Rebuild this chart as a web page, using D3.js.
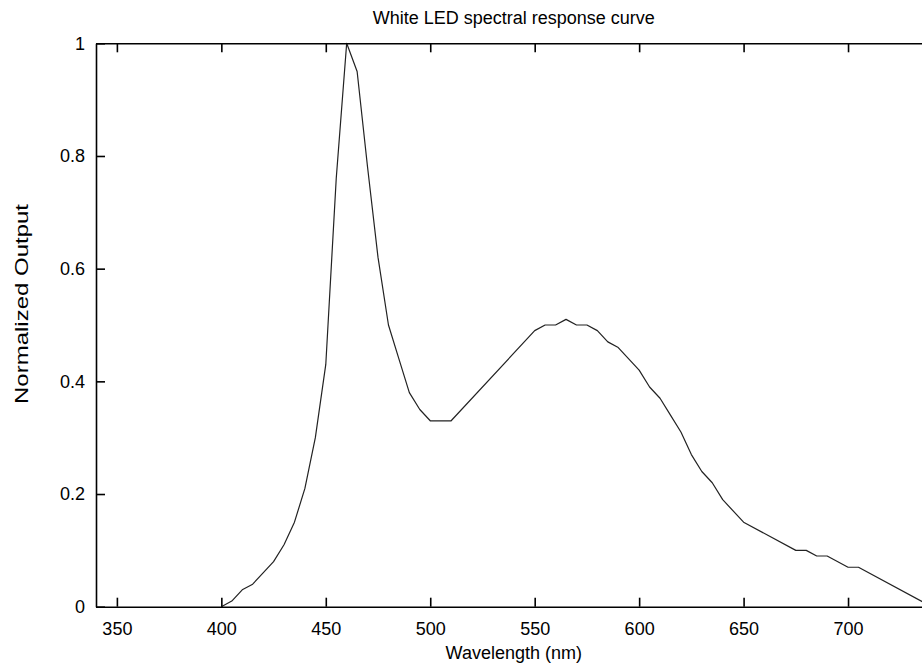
<!DOCTYPE html>
<html>
<head>
<meta charset="utf-8">
<script src="https://cdn.jsdelivr.net/npm/d3@7"></script>
<style>
  body { margin: 0; background: #fff; }
</style>
</head>
<body>
<div id="chart"></div>
<script>
// wavelength (nm) and normalized output
const wavelengths = [400, 405, 410, 415, 420, 425, 430, 435, 440, 445, 450, 455, 460, 465, 470, 475,
  480, 485, 490, 495, 500, 505, 510, 550, 555, 560, 565, 570, 575, 580, 585, 590, 595, 600, 605,
  610, 615, 620, 625, 630, 635, 640, 650, 675, 680, 685, 690, 700, 705, 740]
const outputs = [0, 0.01, 0.03, 0.04, 0.06, 0.08, 0.11, 0.15, 0.21, 0.30, 0.43, 0.76, 1.00, 0.95, 0.78, 0.62,
  0.50, 0.44, 0.38, 0.35, 0.33, 0.33, 0.33, 0.49, 0.50, 0.50, 0.51, 0.50, 0.50, 0.49, 0.47, 0.46, 0.44, 0.42, 0.39,
  0.37, 0.34, 0.31, 0.27, 0.24, 0.22, 0.19, 0.15, 0.10, 0.10, 0.09, 0.09, 0.07, 0.07, 0]
const xTicks = [350, 400, 450, 500, 550, 600, 650, 700]
const yTicks = [0, 0.2, 0.4, 0.6, 0.8, 1]
const xDomain = [340, 740]
const yDomain = [0, 1]

const title = 'White LED spectral response curve'
const xLabel = 'Wavelength (nm)'
const yLabel = 'Normalized Output'

const width = 922
const height = 668
const margin = { top: 43.3, left: 96, right: -9.6, bottom: 61.3 }
const tickLen = 9

const styles = {
  font: '"Liberation Sans", Arial, Helvetica, sans-serif',
  fontSize: '18px',
  border: { stroke: '#000', width: 1.6 },
  curve: { stroke: '#222', width: 1.2 },
}

const svg = d3.select('#chart')
  .append('svg')
  .attr('width', width)
  .attr('height', height)
  .style('font-family', styles.font)
  .style('font-size', styles.fontSize)

const x = d3.scaleLinear()
  .domain(xDomain)
  .range([margin.left, width - margin.right])

const y = d3.scaleLinear()
  .domain(yDomain)
  .range([height - margin.bottom, margin.top])

const data = wavelengths.map((w, i) => ({ w: w, v: outputs[i] }))

// curve
const line = d3.line()
  .x(d => x(d.w))
  .y(d => y(d.v))

svg.append('path')
  .datum(data)
  .attr('d', line)
  .attr('fill', 'none')
  .attr('stroke', styles.curve.stroke)
  .attr('stroke-width', styles.curve.width)
  .attr('stroke-linejoin', 'round')

// bottom axis, ticks point inward
const xAxis = svg.append('g')
  .attr('transform', `translate(0,${y(0)})`)
  .call(d3.axisBottom(x).tickValues(xTicks).tickSizeInner(-tickLen).tickSizeOuter(0).tickPadding(16))

// top axis, mirrored ticks, no labels
const xAxisTop = svg.append('g')
  .attr('transform', `translate(0,${y(1)})`)
  .call(d3.axisTop(x).tickValues(xTicks).tickSizeInner(-tickLen).tickSizeOuter(0).tickFormat(''))

// left axis
const yAxis = svg.append('g')
  .attr('transform', `translate(${x(xDomain[0])},0)`)
  .call(d3.axisLeft(y).tickValues(yTicks).tickSizeInner(-tickLen).tickSizeOuter(0).tickPadding(11)
    .tickFormat(d3.format('~g')))

// right axis (lands just outside the window, like the original)
const yAxisRight = svg.append('g')
  .attr('transform', `translate(${x(xDomain[1])},0)`)
  .call(d3.axisRight(y).tickValues(yTicks).tickSizeInner(-tickLen).tickSizeOuter(0).tickFormat(''))

svg.selectAll('.domain')
  .attr('stroke', styles.border.stroke)
  .attr('stroke-width', styles.border.width)
svg.selectAll('.tick line')
  .attr('stroke', styles.border.stroke)
  .attr('stroke-width', styles.border.width)
svg.selectAll('.tick text')
  .attr('fill', '#000')
  .style('font-family', styles.font)
  .style('font-size', styles.fontSize)

// title + labels
const midX = (x.range()[0] + x.range()[1]) / 2

svg.append('text')
  .attr('x', midX)
  .attr('y', 24)
  .attr('text-anchor', 'middle')
  .text(title)

svg.append('text')
  .attr('x', midX)
  .attr('y', 659)
  .attr('text-anchor', 'middle')
  .text(xLabel)

svg.append('text')
  .attr('transform', `translate(28,304) rotate(-90)`)
  .attr('text-anchor', 'middle')
  .style('font-size', '19px')
  .attr('textLength', 200)
  .attr('lengthAdjust', 'spacingAndGlyphs')
  .text(yLabel)
</script>
</body>
</html>
